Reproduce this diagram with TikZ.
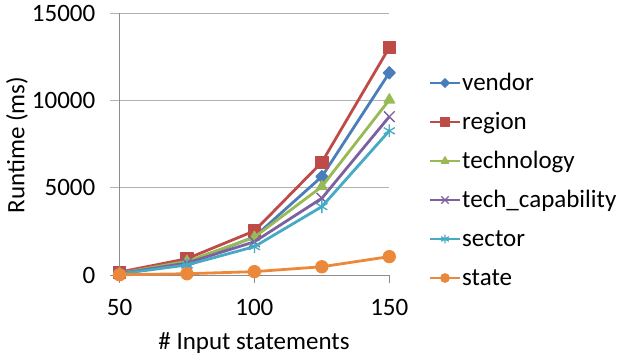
\documentclass[tikz,border=0pt]{standalone}
\usepackage{fontspec}
\setmainfont{Carlito}
\usetikzlibrary{plotmarks,calc}
\definecolor{cvendor}{HTML}{4A7EBB}
\definecolor{cregion}{HTML}{BE4B48}
\definecolor{ctech}{HTML}{98B954}
\definecolor{ccap}{HTML}{7D60A0}
\definecolor{csector}{HTML}{46AAC5}
\definecolor{cstate}{HTML}{EB883A}
\begin{document}
\begin{tikzpicture}[x=1pt,y=1pt,
   every node/.style={font=\fontsize{25}{30}\selectfont, inner sep=0pt},
   grid line/.style={draw=black!30, line width=1pt},
   axis line/.style={draw=black!45, line width=1pt},
   series/.style={line width=2.8pt, line join=round, mark size=6pt,
                  mark options={solid, line width=1.3pt}},
   diamond mark/.style={mark=diamond*, every mark/.append style={xscale=1.3}},
   square mark/.style={mark=square*},
   tri mark/.style={mark=triangle*},
   cross mark/.style={mark=x, mark size=7.5pt},
   star mark/.style={mark=asterisk, mark size=6.4pt},
   dot mark/.style={mark=*}]

\useasboundingbox (0,0) rectangle (620,360);

\begin{scope}[shift={(-15.4,84.7)}, x=2.698pt, y=0.017467pt]
   \foreach \v in {5000,10000,15000}
      \draw[grid line] ([xshift=-9.5pt]50,\v) -- (150,\v);
   \draw[axis line] ([xshift=-9.5pt]50,0) -- (150,0);
   \draw[axis line] (50,0) -- (50,15000);
   \foreach \u in {50,100,150}
      \draw[axis line] (\u,0) -- ([yshift=-8pt]\u,0);

   \foreach \v in {0,5000,10000,15000}
      \node[anchor=east] (yt\v) at ([xshift=-24pt]50,\v) {\v};
   \foreach \u in {50,100,150}
      \node[anchor=base] (xt\u) at ([yshift=-40pt]\u,0) {\u};

   \draw[series, cvendor, diamond mark] plot coordinates
      {(50,150) (75,700) (100,2200) (125,5650) (150,11590)};
   \draw[series, cregion, square mark] plot coordinates
      {(50,180) (75,950) (100,2540) (125,6470) (150,13040)};
   \draw[series, ctech, tri mark] plot coordinates
      {(50,120) (75,800) (100,2180) (125,5080) (150,10040)};
   \draw[series, ccap, cross mark] plot coordinates
      {(50,100) (75,700) (100,1920) (125,4410) (150,9080)};
   \draw[series, csector, star mark] plot coordinates
      {(50,80) (75,590) (100,1640) (125,3930) (150,8270)};
   \draw[series, cstate, dot mark] plot coordinates
      {(50,30) (75,90) (100,210) (125,490) (150,1070)};
\end{scope}

\node[rotate=90] (ylab) at (17,215) {Runtime (ms)};
\node (xlab) at (254,17) {\# Input statements};

\foreach \name/\col/\mk [count=\i from 0] in
   {vendor/cvendor/diamond mark, region/cregion/square mark,
    technology/ctech/tri mark, tech\_capability/ccap/cross mark,
    sector/csector/star mark, state/cstate/dot mark} {
   \coordinate (la\i) at (430,277-39*\i);
   \coordinate (lb\i) at (460,277-39*\i);
   \draw[series, \col] (la\i) -- (lb\i);
   \path[series, \col, \mk, every mark/.append style={scale=0.7}]
      plot coordinates {($(la\i)!0.5!(lb\i)$)};
   \node[anchor=base west] (leg\i) at ([xshift=2pt, yshift=-7.5pt]lb\i) {\name};
}
\end{tikzpicture}
\end{document}
